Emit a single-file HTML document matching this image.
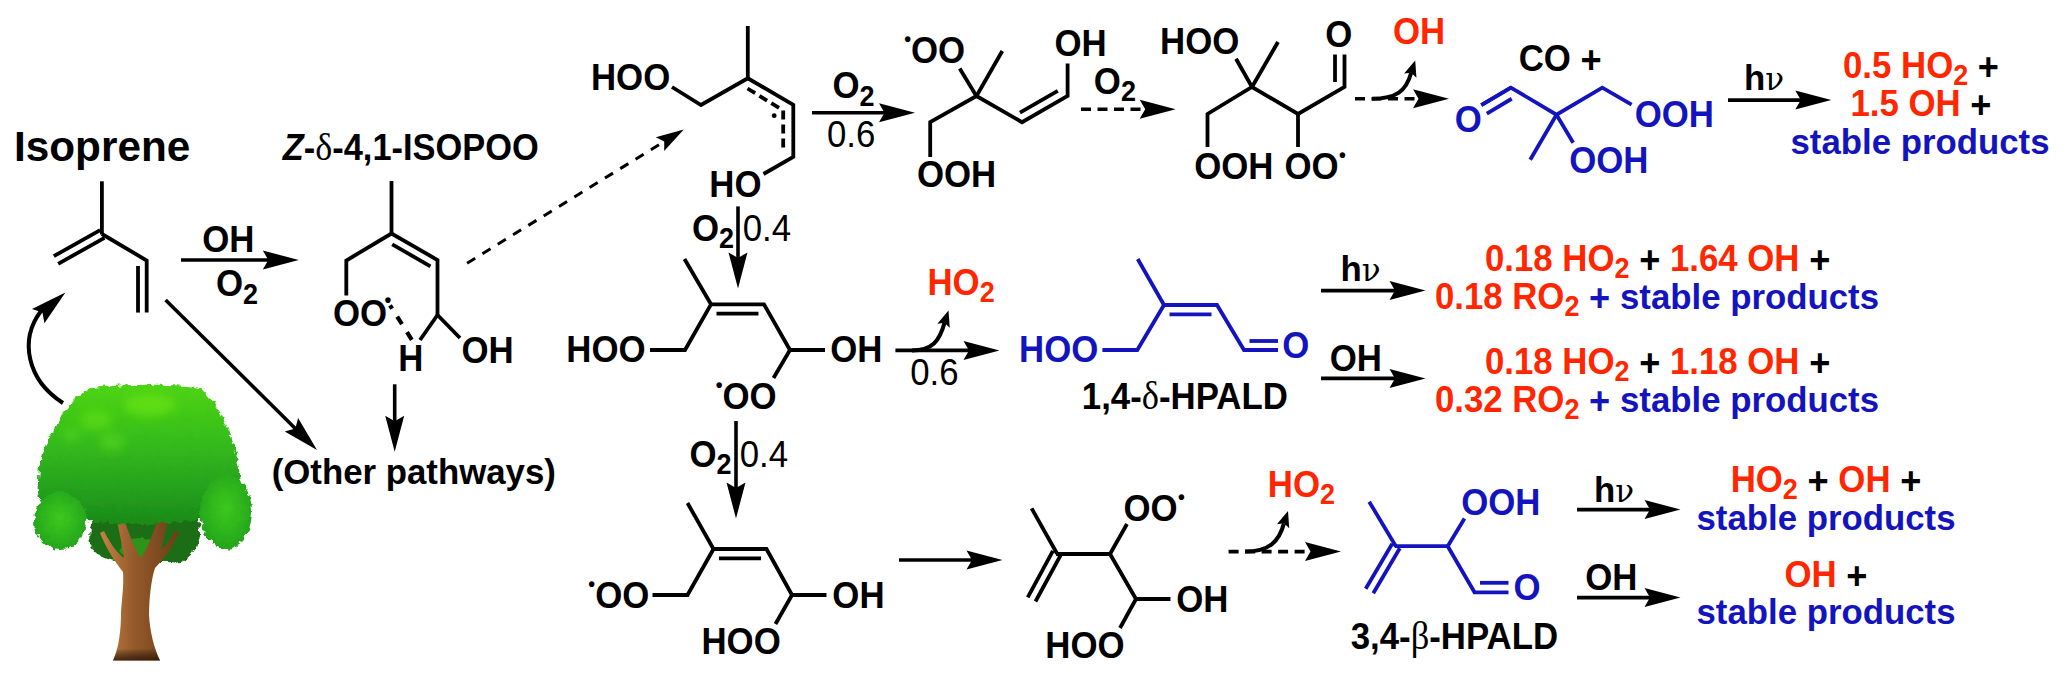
<!DOCTYPE html>
<html><head><meta charset="utf-8"><title>Isoprene oxidation scheme</title>
<style>
html,body{margin:0;padding:0;background:#fff;}
svg{display:block;font-family:"Liberation Sans",Arial,Helvetica,sans-serif;}
text{white-space:pre;}
</style></head><body>
<svg width="2067" height="679" viewBox="0 0 2067 679">
<rect width="2067" height="679" fill="#fff"/>
<text x="13.97" y="161" font-size="42.3" font-weight="bold" fill="#000" text-anchor="start">Isoprene</text>
<text transform="translate(282.81,160) scale(1,1.07)" x="0" y="0" font-size="34.4" font-weight="bold" fill="#000" text-anchor="start"><tspan font-style="italic">Z</tspan>-<tspan font-family='"Liberation Serif",serif' font-size="36.12" font-weight="normal" font-style="normal">δ</tspan>-4,1-ISOPOO</text>
<line x1="101.9" y1="181.3" x2="101.9" y2="234.5" stroke="#000" stroke-width="3.8" stroke-linecap="butt"/>
<line x1="100.15" y1="230.16" x2="53.85" y2="256.16" stroke="#000" stroke-width="3.8" stroke-linecap="butt"/>
<line x1="104.45" y1="237.84" x2="58.15" y2="263.84" stroke="#000" stroke-width="3.8" stroke-linecap="butt"/>
<polyline points="101.9,234 146.7,260.5 146.7,312.6" fill="none" stroke="#000" stroke-width="3.8" stroke-linejoin="miter"/>
<line x1="138" y1="266" x2="138" y2="312.6" stroke="#000" stroke-width="3.8" stroke-linecap="butt"/>
<line x1="181" y1="260" x2="269.3" y2="260" stroke="#000" stroke-width="3.6" stroke-linecap="butt"/>
<polygon points="298.8,260 262.8,269.5 268.3,260 262.8,250.5" fill="#000"/>
<text transform="translate(202.27,252.3) scale(1,1.07)" x="0" y="0" font-size="34.8" font-weight="bold" fill="#000" text-anchor="start">OH</text>
<text transform="translate(216.07,296.3) scale(1,1.07)" x="0" y="0" font-size="34.8" font-weight="bold" fill="#000" text-anchor="start">O<tspan dy="6.96" font-size="26.97">2</tspan></text>
<line x1="165.6" y1="300" x2="296.04" y2="429.24" stroke="#000" stroke-width="3.6" stroke-linecap="butt"/>
<polygon points="317,450 284.74,431.41 295.33,428.53 298.11,417.91" fill="#000"/>
<path d="M63,403 C27,380 19,340 41,311" fill="none" stroke="#000" stroke-width="4"/>
<polygon points="65.4,292.5 44.46,323.29 42.38,312.51 32,308.95" fill="#000"/>
<line x1="391.5" y1="181" x2="391.5" y2="233.5" stroke="#000" stroke-width="3.8" stroke-linecap="butt"/>
<polyline points="346.3,295.5 346.3,260.5 391.5,233.5 437.5,260 437.5,315" fill="none" stroke="#000" stroke-width="3.8" stroke-linejoin="miter"/>
<line x1="392.21" y1="244.29" x2="430.41" y2="266.3" stroke="#000" stroke-width="3.8" stroke-linecap="butt"/>
<line x1="437.5" y1="315" x2="460" y2="338" stroke="#000" stroke-width="3.8" stroke-linecap="butt"/>
<line x1="437.5" y1="315" x2="420" y2="340" stroke="#000" stroke-width="3.8" stroke-linecap="butt"/>
<text transform="translate(332.97,325.7) scale(1,1.07)" x="0" y="0" font-size="34.8" font-weight="bold" fill="#000" text-anchor="start">OO</text>
<text transform="translate(384.48,306.6) scale(1,1.07)" x="0" y="0" font-size="19.5" font-weight="bold" fill="#000" text-anchor="start">•</text>
<text transform="translate(398.37,371.4) scale(1,1.07)" x="0" y="0" font-size="34.8" font-weight="bold" fill="#000" text-anchor="start">H</text>
<text transform="translate(461.57,363) scale(1,1.07)" x="0" y="0" font-size="34.8" font-weight="bold" fill="#000" text-anchor="start">OH</text>
<line x1="390" y1="305.3" x2="412.4" y2="340.7" stroke="#000" stroke-width="4.2" stroke-linecap="butt" stroke-dasharray="4 9.4 9 9.4 9 100"/>
<line x1="394.7" y1="384.3" x2="394.7" y2="422.2" stroke="#000" stroke-width="3.6" stroke-linecap="butt"/>
<polygon points="394.7,451.7 385.2,415.7 394.7,421.2 404.2,415.7" fill="#000"/>
<text x="271.67" y="484.2" font-size="34.8" font-weight="bold" fill="#000" text-anchor="start">(Other pathways)</text>
<line x1="467.1" y1="263.2" x2="665.08" y2="140.96" stroke="#000" stroke-width="3" stroke-linecap="butt" stroke-dasharray="9.5 8.5"/>
<polygon points="683.8,129.4 664.18,150.92 664.23,141.48 655.77,137.3" fill="#000"/>
<text transform="translate(590.97,90.1) scale(1,1.07)" x="0" y="0" font-size="34.8" font-weight="bold" fill="#000" text-anchor="start">HOO</text>
<polyline points="672,87 701,105 747.8,78.3 793.3,104.8 793.3,157 763.5,174" fill="none" stroke="#000" stroke-width="3.8" stroke-linejoin="miter"/>
<line x1="747.8" y1="26" x2="747.8" y2="78.3" stroke="#000" stroke-width="3.8" stroke-linecap="butt"/>
<polyline points="747.5,88.5 783.2,110.5 783.2,152" fill="none" stroke="#000" stroke-width="3.8" stroke-linejoin="miter" stroke-dasharray="9 5"/>
<circle cx="774.2" cy="115.7" r="2.4" fill="#000"/>
<text transform="translate(709.27,197.2) scale(1,1.07)" x="0" y="0" font-size="34.8" font-weight="bold" fill="#000" text-anchor="start">HO</text>
<line x1="812" y1="112.8" x2="885.5" y2="112.8" stroke="#000" stroke-width="3.6" stroke-linecap="butt"/>
<polygon points="915,112.8 879,122.3 884.5,112.8 879,103.3" fill="#000"/>
<text transform="translate(832.57,98.3) scale(1,1.07)" x="0" y="0" font-size="34.8" font-weight="bold" fill="#000" text-anchor="start">O<tspan dy="6.96" font-size="26.97">2</tspan></text>
<text transform="translate(826.94,146.5) scale(1,1.07)" x="0" y="0" font-size="34.8" font-weight="normal" fill="#000" text-anchor="start">0.6</text>
<line x1="738" y1="206.4" x2="738" y2="258.9" stroke="#000" stroke-width="3.6" stroke-linecap="butt"/>
<polygon points="738,288.4 728.5,252.4 738,257.9 747.5,252.4" fill="#000"/>
<text transform="translate(691.97,240.7) scale(1,1.07)" x="0" y="0" font-size="34.8" font-weight="bold" fill="#000" text-anchor="start">O<tspan dy="6.96" font-size="26.97">2</tspan></text>
<text transform="translate(742.64,240.7) scale(1,1.07)" x="0" y="0" font-size="34.8" font-weight="normal" fill="#000" text-anchor="start">0.4</text>
<text transform="translate(903.88,63.3) scale(1,1.07)" x="0" y="0" font-size="34.8" font-weight="bold" fill="#000" text-anchor="start"><tspan dy="-15.83" font-size="19.49" dx="0.35">•</tspan><tspan dy="15.83">OO</tspan></text>
<line x1="959.7" y1="68.5" x2="976.5" y2="96.2" stroke="#000" stroke-width="3.8" stroke-linecap="butt"/>
<line x1="1002.3" y1="51" x2="976.5" y2="96" stroke="#000" stroke-width="3.8" stroke-linecap="butt"/>
<polyline points="930.2,157 930.2,122 976.5,96 1022,122.2 1067.6,96 1067.6,63.5" fill="none" stroke="#000" stroke-width="3.8" stroke-linejoin="miter"/>
<line x1="1019.97" y1="112.64" x2="1057.76" y2="90.93" stroke="#000" stroke-width="3.8" stroke-linecap="butt"/>
<text transform="translate(916.97,187) scale(1,1.07)" x="0" y="0" font-size="34.8" font-weight="bold" fill="#000" text-anchor="start">OOH</text>
<text transform="translate(1054.57,55.7) scale(1,1.07)" x="0" y="0" font-size="34.8" font-weight="bold" fill="#000" text-anchor="start">OH</text>
<line x1="1081" y1="109.2" x2="1146.2" y2="109.2" stroke="#000" stroke-width="3.6" stroke-linecap="butt" stroke-dasharray="10 6.5"/>
<polygon points="1175.7,109.2 1139.7,118.7 1145.2,109.2 1139.7,99.7" fill="#000"/>
<text transform="translate(1093.87,93.8) scale(1,1.07)" x="0" y="0" font-size="34.8" font-weight="bold" fill="#000" text-anchor="start">O<tspan dy="6.96" font-size="26.97">2</tspan></text>
<text transform="translate(1160.07,53.9) scale(1,1.07)" x="0" y="0" font-size="34.8" font-weight="bold" fill="#000" text-anchor="start">HOO</text>
<line x1="1236" y1="58.8" x2="1252" y2="87" stroke="#000" stroke-width="3.8" stroke-linecap="butt"/>
<line x1="1278" y1="42" x2="1252" y2="87" stroke="#000" stroke-width="3.8" stroke-linecap="butt"/>
<polyline points="1207.5,147 1207.5,114 1252,87 1298,114 1344.5,87 1344.5,54.5" fill="none" stroke="#000" stroke-width="3.8" stroke-linejoin="miter"/>
<line x1="1335" y1="82" x2="1335" y2="54.5" stroke="#000" stroke-width="3.8" stroke-linecap="butt"/>
<line x1="1298" y1="114" x2="1298" y2="147" stroke="#000" stroke-width="3.8" stroke-linecap="butt"/>
<text transform="translate(1194.27,179.1) scale(1,1.07)" x="0" y="0" font-size="34.8" font-weight="bold" fill="#000" text-anchor="start">OOH</text>
<text transform="translate(1284.57,179.1) scale(1,1.07)" x="0" y="0" font-size="34.8" font-weight="bold" fill="#000" text-anchor="start">OO<tspan dy="-15.83" font-size="19.49" dx="0.35">•</tspan></text>
<text transform="translate(1325.37,47.1) scale(1,1.07)" x="0" y="0" font-size="34.8" font-weight="bold" fill="#000" text-anchor="start">O</text>
<line x1="1355" y1="98.7" x2="1419.5" y2="98.7" stroke="#000" stroke-width="3.6" stroke-linecap="butt" stroke-dasharray="10 6.5"/>
<polygon points="1449,98.7 1413,108.2 1418.5,98.7 1413,89.2" fill="#000"/>
<path d="M1372,98.7 C1396.29,98.7 1406.24,90.98 1411.18,72.76" fill="none" stroke="#000" stroke-width="4"/>
<polygon points="1415.2,60.4 1416.44,77.63 1411.18,72.76 1404.07,73.61" fill="#000"/>
<text transform="translate(1393.07,43.6) scale(1,1.07)" x="0" y="0" font-size="34.8" font-weight="bold" fill="#ff2600" text-anchor="start">OH</text>
<text transform="translate(1518.67,71) scale(1,1.07)" x="0" y="0" font-size="34.8" font-weight="bold" fill="#000" text-anchor="start">CO <tspan dy="2.26" font-size="36.19">+</tspan></text>
<text transform="translate(1454.87,131.5) scale(1,1.07)" x="0" y="0" font-size="34.8" font-weight="bold" fill="#1414be" text-anchor="start">O</text>
<line x1="1481.3" y1="105.2" x2="1510.9" y2="87.6" stroke="#1414be" stroke-width="3.8" stroke-linecap="butt"/>
<line x1="1486.84" y1="113.54" x2="1511.71" y2="98.75" stroke="#1414be" stroke-width="3.8" stroke-linecap="butt"/>
<polyline points="1481.3,105.2 1510.9,87.6 1556.5,114.7 1602.3,87.6 1631.6,104.6" fill="none" stroke="#1414be" stroke-width="3.8" stroke-linejoin="miter"/>
<line x1="1556.5" y1="114.7" x2="1530.2" y2="159.7" stroke="#1414be" stroke-width="3.8" stroke-linecap="butt"/>
<line x1="1556.5" y1="114.7" x2="1573.2" y2="142.7" stroke="#1414be" stroke-width="3.8" stroke-linecap="butt"/>
<text transform="translate(1634.67,127.2) scale(1,1.07)" x="0" y="0" font-size="34.8" font-weight="bold" fill="#1414be" text-anchor="start">OOH</text>
<text transform="translate(1569.27,172.8) scale(1,1.07)" x="0" y="0" font-size="34.8" font-weight="bold" fill="#1414be" text-anchor="start">OOH</text>
<line x1="1728" y1="100.1" x2="1801.8" y2="100.1" stroke="#000" stroke-width="3.6" stroke-linecap="butt"/>
<polygon points="1831.3,100.1 1795.3,109.6 1800.8,100.1 1795.3,90.6" fill="#000"/>
<text x="1744.07" y="90" font-size="34.8" font-weight="bold" fill="#000" text-anchor="start">h<tspan font-family='"DejaVu Serif","Liberation Serif",serif' font-size="30.97" font-weight="normal" font-style="normal">ν</tspan></text>
<text transform="translate(1921,77.6) scale(1,1.07)" x="0" y="0" font-size="34.8" font-weight="bold" fill="#000" text-anchor="middle"><tspan fill="#ff2600">0.5 HO</tspan><tspan dy="6.96" font-size="26.97" fill="#ff2600">2</tspan><tspan dy="-6.96" fill="#000"> </tspan><tspan dy="2.26" font-size="36.19" fill="#000">+</tspan></text>
<text transform="translate(1921,116) scale(1,1.07)" x="0" y="0" font-size="34.8" font-weight="bold" fill="#000" text-anchor="middle"><tspan fill="#ff2600">1.5 OH</tspan><tspan fill="#000"> </tspan><tspan dy="2.26" font-size="36.19" fill="#000">+</tspan></text>
<text x="1920" y="154.2" font-size="34.8" font-weight="bold" fill="#1414be" text-anchor="middle">stable products</text>
<text transform="translate(566.37,362) scale(1,1.07)" x="0" y="0" font-size="34.8" font-weight="bold" fill="#000" text-anchor="start">HOO</text>
<polyline points="650,350 685,350 711,304.3 764,304.3 790,350 825,350" fill="none" stroke="#000" stroke-width="3.8" stroke-linejoin="miter"/>
<line x1="684.5" y1="259" x2="711" y2="304.3" stroke="#000" stroke-width="3.8" stroke-linecap="butt"/>
<line x1="716.5" y1="313.6" x2="758.5" y2="313.6" stroke="#000" stroke-width="3.8" stroke-linecap="butt"/>
<line x1="790" y1="350" x2="773.5" y2="378" stroke="#000" stroke-width="3.8" stroke-linecap="butt"/>
<text transform="translate(830.27,362) scale(1,1.07)" x="0" y="0" font-size="34.8" font-weight="bold" fill="#000" text-anchor="start">OH</text>
<text transform="translate(715.38,409) scale(1,1.07)" x="0" y="0" font-size="34.8" font-weight="bold" fill="#000" text-anchor="start"><tspan dy="-15.83" font-size="19.49" dx="0.35">•</tspan><tspan dy="15.83">OO</tspan></text>
<line x1="895.4" y1="350.4" x2="970" y2="350.4" stroke="#000" stroke-width="3.6" stroke-linecap="butt"/>
<polygon points="999.5,350.4 963.5,359.9 969,350.4 963.5,340.9" fill="#000"/>
<path d="M912,350.4 C932.14,350.4 939.54,341.08 944.48,322.86" fill="none" stroke="#000" stroke-width="4"/>
<polygon points="948.5,310.5 949.74,327.73 944.48,322.86 937.37,323.71" fill="#000"/>
<text transform="translate(927.47,294.5) scale(1,1.07)" x="0" y="0" font-size="34.8" font-weight="bold" fill="#ff2600" text-anchor="start">HO<tspan dy="6.96" font-size="26.97">2</tspan></text>
<text transform="translate(910.24,385.4) scale(1,1.07)" x="0" y="0" font-size="34.8" font-weight="normal" fill="#000" text-anchor="start">0.6</text>
<line x1="736" y1="421" x2="736" y2="489" stroke="#000" stroke-width="3.6" stroke-linecap="butt"/>
<polygon points="736,518.5 726.5,482.5 736,488 745.5,482.5" fill="#000"/>
<text transform="translate(689.57,466.6) scale(1,1.07)" x="0" y="0" font-size="34.8" font-weight="bold" fill="#000" text-anchor="start">O<tspan dy="6.96" font-size="26.97">2</tspan></text>
<text transform="translate(739.64,466.6) scale(1,1.07)" x="0" y="0" font-size="34.8" font-weight="normal" fill="#000" text-anchor="start">0.4</text>
<text transform="translate(1019.07,362) scale(1,1.07)" x="0" y="0" font-size="34.8" font-weight="bold" fill="#1414be" text-anchor="start">HOO</text>
<polyline points="1102.4,350 1137.3,350 1164,305 1217,305 1244,350 1278,350" fill="none" stroke="#1414be" stroke-width="3.8" stroke-linejoin="miter"/>
<line x1="1137.7" y1="259" x2="1164" y2="305" stroke="#1414be" stroke-width="3.8" stroke-linecap="butt"/>
<line x1="1169.5" y1="314.3" x2="1211.5" y2="314.3" stroke="#1414be" stroke-width="3.8" stroke-linecap="butt"/>
<line x1="1249.5" y1="341" x2="1278" y2="341" stroke="#1414be" stroke-width="3.8" stroke-linecap="butt"/>
<text transform="translate(1282.27,358.3) scale(1,1.07)" x="0" y="0" font-size="34.8" font-weight="bold" fill="#1414be" text-anchor="start">O</text>
<text transform="translate(1081.81,409) scale(1,1.07)" x="0" y="0" font-size="34.8" font-weight="bold" fill="#000" text-anchor="start">1,4-<tspan font-family='"Liberation Serif",serif' font-size="36.54" font-weight="normal" font-style="normal">δ</tspan>-HPALD</text>
<line x1="1321" y1="290.6" x2="1396" y2="290.6" stroke="#000" stroke-width="3.6" stroke-linecap="butt"/>
<polygon points="1425.5,290.6 1389.5,300.1 1395,290.6 1389.5,281.1" fill="#000"/>
<text x="1340.57" y="281.2" font-size="34.8" font-weight="bold" fill="#000" text-anchor="start">h<tspan font-family='"DejaVu Serif","Liberation Serif",serif' font-size="30.97" font-weight="normal" font-style="normal">ν</tspan></text>
<line x1="1321" y1="378.4" x2="1396" y2="378.4" stroke="#000" stroke-width="3.6" stroke-linecap="butt"/>
<polygon points="1425.5,378.4 1389.5,387.9 1395,378.4 1389.5,368.9" fill="#000"/>
<text transform="translate(1329.67,371.4) scale(1,1.07)" x="0" y="0" font-size="34.8" font-weight="bold" fill="#000" text-anchor="start">OH</text>
<text transform="translate(1657.6,271) scale(1,1.07)" x="0" y="0" font-size="34.8" font-weight="bold" fill="#000" text-anchor="middle"><tspan fill="#ff2600">0.18 HO</tspan><tspan dy="6.96" font-size="26.97" fill="#ff2600">2</tspan><tspan dy="-6.96" fill="#000"> </tspan><tspan dy="2.26" font-size="36.19" fill="#000">+</tspan><tspan dy="-2.26" fill="#000"> </tspan><tspan fill="#ff2600">1.64 OH</tspan><tspan fill="#000"> </tspan><tspan dy="2.26" font-size="36.19" fill="#000">+</tspan></text>
<text transform="translate(1434.9,309) scale(1,1.07)" x="0" y="0" font-size="34.8" font-weight="bold" fill="#000" text-anchor="start"><tspan fill="#ff2600">0.18 RO</tspan><tspan dy="6.96" font-size="26.97" fill="#ff2600">2</tspan><tspan dy="-6.96" fill="#1414be"> </tspan><tspan dy="2.26" font-size="36.19" fill="#1414be">+</tspan></text>
<text x="1619.95" y="309" font-size="34.8" font-weight="bold" fill="#1414be" text-anchor="start">stable products</text>
<text transform="translate(1657.6,374) scale(1,1.07)" x="0" y="0" font-size="34.8" font-weight="bold" fill="#000" text-anchor="middle"><tspan fill="#ff2600">0.18 HO</tspan><tspan dy="6.96" font-size="26.97" fill="#ff2600">2</tspan><tspan dy="-6.96" fill="#000"> </tspan><tspan dy="2.26" font-size="36.19" fill="#000">+</tspan><tspan dy="-2.26" fill="#000"> </tspan><tspan fill="#ff2600">1.18 OH</tspan><tspan fill="#000"> </tspan><tspan dy="2.26" font-size="36.19" fill="#000">+</tspan></text>
<text transform="translate(1434.9,412) scale(1,1.07)" x="0" y="0" font-size="34.8" font-weight="bold" fill="#000" text-anchor="start"><tspan fill="#ff2600">0.32 RO</tspan><tspan dy="6.96" font-size="26.97" fill="#ff2600">2</tspan><tspan dy="-6.96" fill="#1414be"> </tspan><tspan dy="2.26" font-size="36.19" fill="#1414be">+</tspan></text>
<text x="1619.95" y="412" font-size="34.8" font-weight="bold" fill="#1414be" text-anchor="start">stable products</text>
<text transform="translate(587.98,607.6) scale(1,1.07)" x="0" y="0" font-size="34.8" font-weight="bold" fill="#000" text-anchor="start"><tspan dy="-15.83" font-size="19.49" dx="0.35">•</tspan><tspan dy="15.83">OO</tspan></text>
<polyline points="652.5,595 687.5,595 713.5,549 766.5,549 792,595 826.5,595" fill="none" stroke="#000" stroke-width="3.8" stroke-linejoin="miter"/>
<line x1="687.5" y1="503" x2="713.5" y2="549" stroke="#000" stroke-width="3.8" stroke-linecap="butt"/>
<line x1="719" y1="558.3" x2="761" y2="558.3" stroke="#000" stroke-width="3.8" stroke-linecap="butt"/>
<line x1="792" y1="595" x2="775.5" y2="624" stroke="#000" stroke-width="3.8" stroke-linecap="butt"/>
<text transform="translate(832.37,607.6) scale(1,1.07)" x="0" y="0" font-size="34.8" font-weight="bold" fill="#000" text-anchor="start">OH</text>
<text transform="translate(701.47,653.8) scale(1,1.07)" x="0" y="0" font-size="34.8" font-weight="bold" fill="#000" text-anchor="start">HOO</text>
<line x1="899" y1="560" x2="973" y2="560" stroke="#000" stroke-width="3.6" stroke-linecap="butt"/>
<polygon points="1002.5,560 966.5,569.5 972,560 966.5,550.5" fill="#000"/>
<line x1="1031.6" y1="508.4" x2="1057" y2="553.5" stroke="#000" stroke-width="3.8" stroke-linecap="butt"/>
<line x1="1052.93" y1="550.9" x2="1027.73" y2="597.3" stroke="#000" stroke-width="3.8" stroke-linecap="butt"/>
<line x1="1060.67" y1="555.1" x2="1035.47" y2="601.5" stroke="#000" stroke-width="3.8" stroke-linecap="butt"/>
<polyline points="1056,554 1110,554 1136,599 1170.5,599" fill="none" stroke="#000" stroke-width="3.8" stroke-linejoin="miter"/>
<line x1="1110" y1="554" x2="1127" y2="524" stroke="#000" stroke-width="3.8" stroke-linecap="butt"/>
<line x1="1136" y1="599" x2="1120" y2="628" stroke="#000" stroke-width="3.8" stroke-linecap="butt"/>
<text transform="translate(1123.57,520.6) scale(1,1.07)" x="0" y="0" font-size="34.8" font-weight="bold" fill="#000" text-anchor="start">OO<tspan dy="-15.83" font-size="19.49" dx="0.35">•</tspan></text>
<text transform="translate(1176.17,612.3) scale(1,1.07)" x="0" y="0" font-size="34.8" font-weight="bold" fill="#000" text-anchor="start">OH</text>
<text transform="translate(1045.27,657.6) scale(1,1.07)" x="0" y="0" font-size="34.8" font-weight="bold" fill="#000" text-anchor="start">HOO</text>
<line x1="1228.6" y1="551.6" x2="1311.5" y2="551.6" stroke="#000" stroke-width="3.6" stroke-linecap="butt" stroke-dasharray="10 6.5"/>
<polygon points="1341,551.6 1305,561.1 1310.5,551.6 1305,542.1" fill="#000"/>
<path d="M1245,551.6 C1269.17,551.6 1279.04,541.58 1283.98,523.36" fill="none" stroke="#000" stroke-width="4"/>
<polygon points="1288,511 1289.24,528.23 1283.98,523.36 1276.87,524.21" fill="#000"/>
<text transform="translate(1267.87,496.6) scale(1,1.07)" x="0" y="0" font-size="34.8" font-weight="bold" fill="#ff2600" text-anchor="start">HO<tspan dy="6.96" font-size="26.97">2</tspan></text>
<line x1="1369.2" y1="501.7" x2="1396" y2="546.5" stroke="#1414be" stroke-width="3.8" stroke-linecap="butt"/>
<line x1="1392.21" y1="543.77" x2="1365.71" y2="588.77" stroke="#1414be" stroke-width="3.8" stroke-linecap="butt"/>
<line x1="1399.79" y1="548.23" x2="1373.29" y2="593.23" stroke="#1414be" stroke-width="3.8" stroke-linecap="butt"/>
<polyline points="1395,546.2 1447.7,546.2 1474.5,592.3 1508.5,592.3" fill="none" stroke="#1414be" stroke-width="3.8" stroke-linejoin="miter"/>
<line x1="1447.7" y1="546.2" x2="1464.5" y2="518.5" stroke="#1414be" stroke-width="3.8" stroke-linecap="butt"/>
<line x1="1480" y1="582.8" x2="1508.5" y2="582.8" stroke="#1414be" stroke-width="3.8" stroke-linecap="butt"/>
<text transform="translate(1461.17,514.5) scale(1,1.07)" x="0" y="0" font-size="34.8" font-weight="bold" fill="#1414be" text-anchor="start">OOH</text>
<text transform="translate(1513.57,600.2) scale(1,1.07)" x="0" y="0" font-size="34.8" font-weight="bold" fill="#1414be" text-anchor="start">O</text>
<text transform="translate(1350.7,648.5) scale(1,1.07)" x="0" y="0" font-size="34.8" font-weight="bold" fill="#000" text-anchor="start">3,4-<tspan font-family='"Liberation Serif",serif' font-size="36.54" font-weight="normal" font-style="normal">β</tspan>-HPALD</text>
<line x1="1577" y1="509.6" x2="1651" y2="509.6" stroke="#000" stroke-width="3.6" stroke-linecap="butt"/>
<polygon points="1680.5,509.6 1644.5,519.1 1650,509.6 1644.5,500.1" fill="#000"/>
<text x="1594.07" y="501.5" font-size="34.8" font-weight="bold" fill="#000" text-anchor="start">h<tspan font-family='"DejaVu Serif","Liberation Serif",serif' font-size="30.97" font-weight="normal" font-style="normal">ν</tspan></text>
<line x1="1577" y1="597.6" x2="1651" y2="597.6" stroke="#000" stroke-width="3.6" stroke-linecap="butt"/>
<polygon points="1680.5,597.6 1644.5,607.1 1650,597.6 1644.5,588.1" fill="#000"/>
<text transform="translate(1585.17,590) scale(1,1.07)" x="0" y="0" font-size="34.8" font-weight="bold" fill="#000" text-anchor="start">OH</text>
<text transform="translate(1826,491.8) scale(1,1.07)" x="0" y="0" font-size="34.8" font-weight="bold" fill="#000" text-anchor="middle"><tspan fill="#ff2600">HO</tspan><tspan dy="6.96" font-size="26.97" fill="#ff2600">2</tspan><tspan dy="-6.96" fill="#000"> </tspan><tspan dy="2.26" font-size="36.19" fill="#000">+</tspan><tspan dy="-2.26" fill="#000"> </tspan><tspan fill="#ff2600">OH</tspan><tspan fill="#000"> </tspan><tspan dy="2.26" font-size="36.19" fill="#000">+</tspan></text>
<text x="1826" y="530.3" font-size="34.8" font-weight="bold" fill="#1414be" text-anchor="middle">stable products</text>
<text transform="translate(1826,586.5) scale(1,1.07)" x="0" y="0" font-size="34.8" font-weight="bold" fill="#000" text-anchor="middle"><tspan fill="#ff2600">OH</tspan><tspan fill="#000"> </tspan><tspan dy="2.26" font-size="36.19" fill="#000">+</tspan></text>
<text x="1826" y="623.9" font-size="34.8" font-weight="bold" fill="#1414be" text-anchor="middle">stable products</text>
<defs>
<linearGradient id="gc" x1="0" x2="0" y1="0" y2="1"><stop offset="0" stop-color="#4fd416"/><stop offset="0.35" stop-color="#38c01a"/><stop offset="0.7" stop-color="#27a51b"/><stop offset="1" stop-color="#1b8a19"/></linearGradient>
<radialGradient id="gl" cx="0.5" cy="0.45" r="0.6"><stop offset="0" stop-color="#3cc81a"/><stop offset="0.7" stop-color="#2aae1a"/><stop offset="1" stop-color="#239f1a"/></radialGradient>
<linearGradient id="gt" x1="0" x2="1" y1="0" y2="0"><stop offset="0" stop-color="#c58245"/><stop offset="0.45" stop-color="#93592a"/><stop offset="1" stop-color="#6b3d17"/></linearGradient>
<linearGradient id="gb" x1="0" x2="0" y1="0" y2="1"><stop offset="0" stop-color="#000" stop-opacity="0"/><stop offset="0.75" stop-color="#000" stop-opacity="0"/><stop offset="1" stop-color="#2a1405" stop-opacity="0.8"/></linearGradient>
<filter id="bl" x="-20%" y="-20%" width="140%" height="140%"><feGaussianBlur stdDeviation="5"/></filter>
<filter id="lf" x="-5%" y="-5%" width="110%" height="110%"><feTurbulence type="fractalNoise" baseFrequency="0.18" numOctaves="2" seed="7" result="n"/><feDisplacementMap in="SourceGraphic" in2="n" scale="7" xChannelSelector="R" yChannelSelector="G"/></filter>
</defs>
<g id="tree">
<g filter="url(#lf)">
<path d="M92,520 C100,512 185,512 198,520 C204,540 196,556 178,563 C160,560 150,566 135,560 C120,564 105,560 95,552 C88,545 88,530 92,520 Z" fill="#1a6e13"/>
<ellipse cx="140" cy="549" rx="20" ry="11" fill="#2a9518"/>
</g>
<path d="M113,660.5 C119,648 121,630 121,612 C122,598 124,585 123,572 C115,562 106,548 100,533 L104,531 C110,543 117,553 124,558 C122,545 119,530 116,517 L123,516 C128,531 134,548 141,558 C148,546 155,531 158,517 L168,517 C166,530 163,541 161,550 C167,544 172,537 175,530 L179,532 C174,545 165,558 155,568 C151,580 149,600 149,615 C150,632 154,648 160,660.5 Z" fill="url(#gt)"/>
<path d="M113,660.5 C119,648 121,630 121,612 L149,615 C150,632 154,648 160,660.5 Z" fill="url(#gb)"/>
<g filter="url(#lf)">
<path d="M88,389 C110,384 180,383 200,388 C210,396 219,408 226,424 C234,442 239,462 241,484 C243,500 236,512 220,516 C200,521 165,524 140,524 C110,524 78,521 58,515 C42,510 36,498 38,482 C38,466 42,450 50,436 C60,416 74,398 88,389 Z" fill="url(#gc)"/>
<ellipse cx="60" cy="521" rx="26" ry="29" fill="url(#gl)"/>
<ellipse cx="226" cy="512" rx="26" ry="37" fill="url(#gl)"/>
</g>
<g filter="url(#bl)"><ellipse cx="150" cy="405" rx="26" ry="11" fill="#68e410" opacity="0.7"/><ellipse cx="96" cy="420" rx="16" ry="10" fill="#62e012" opacity="0.6"/><ellipse cx="112" cy="442" rx="13" ry="9" fill="#5cdc14" opacity="0.5"/><ellipse cx="72" cy="435" rx="9" ry="7" fill="#5cdc14" opacity="0.45"/></g>
</g>
</svg>
</body></html>
